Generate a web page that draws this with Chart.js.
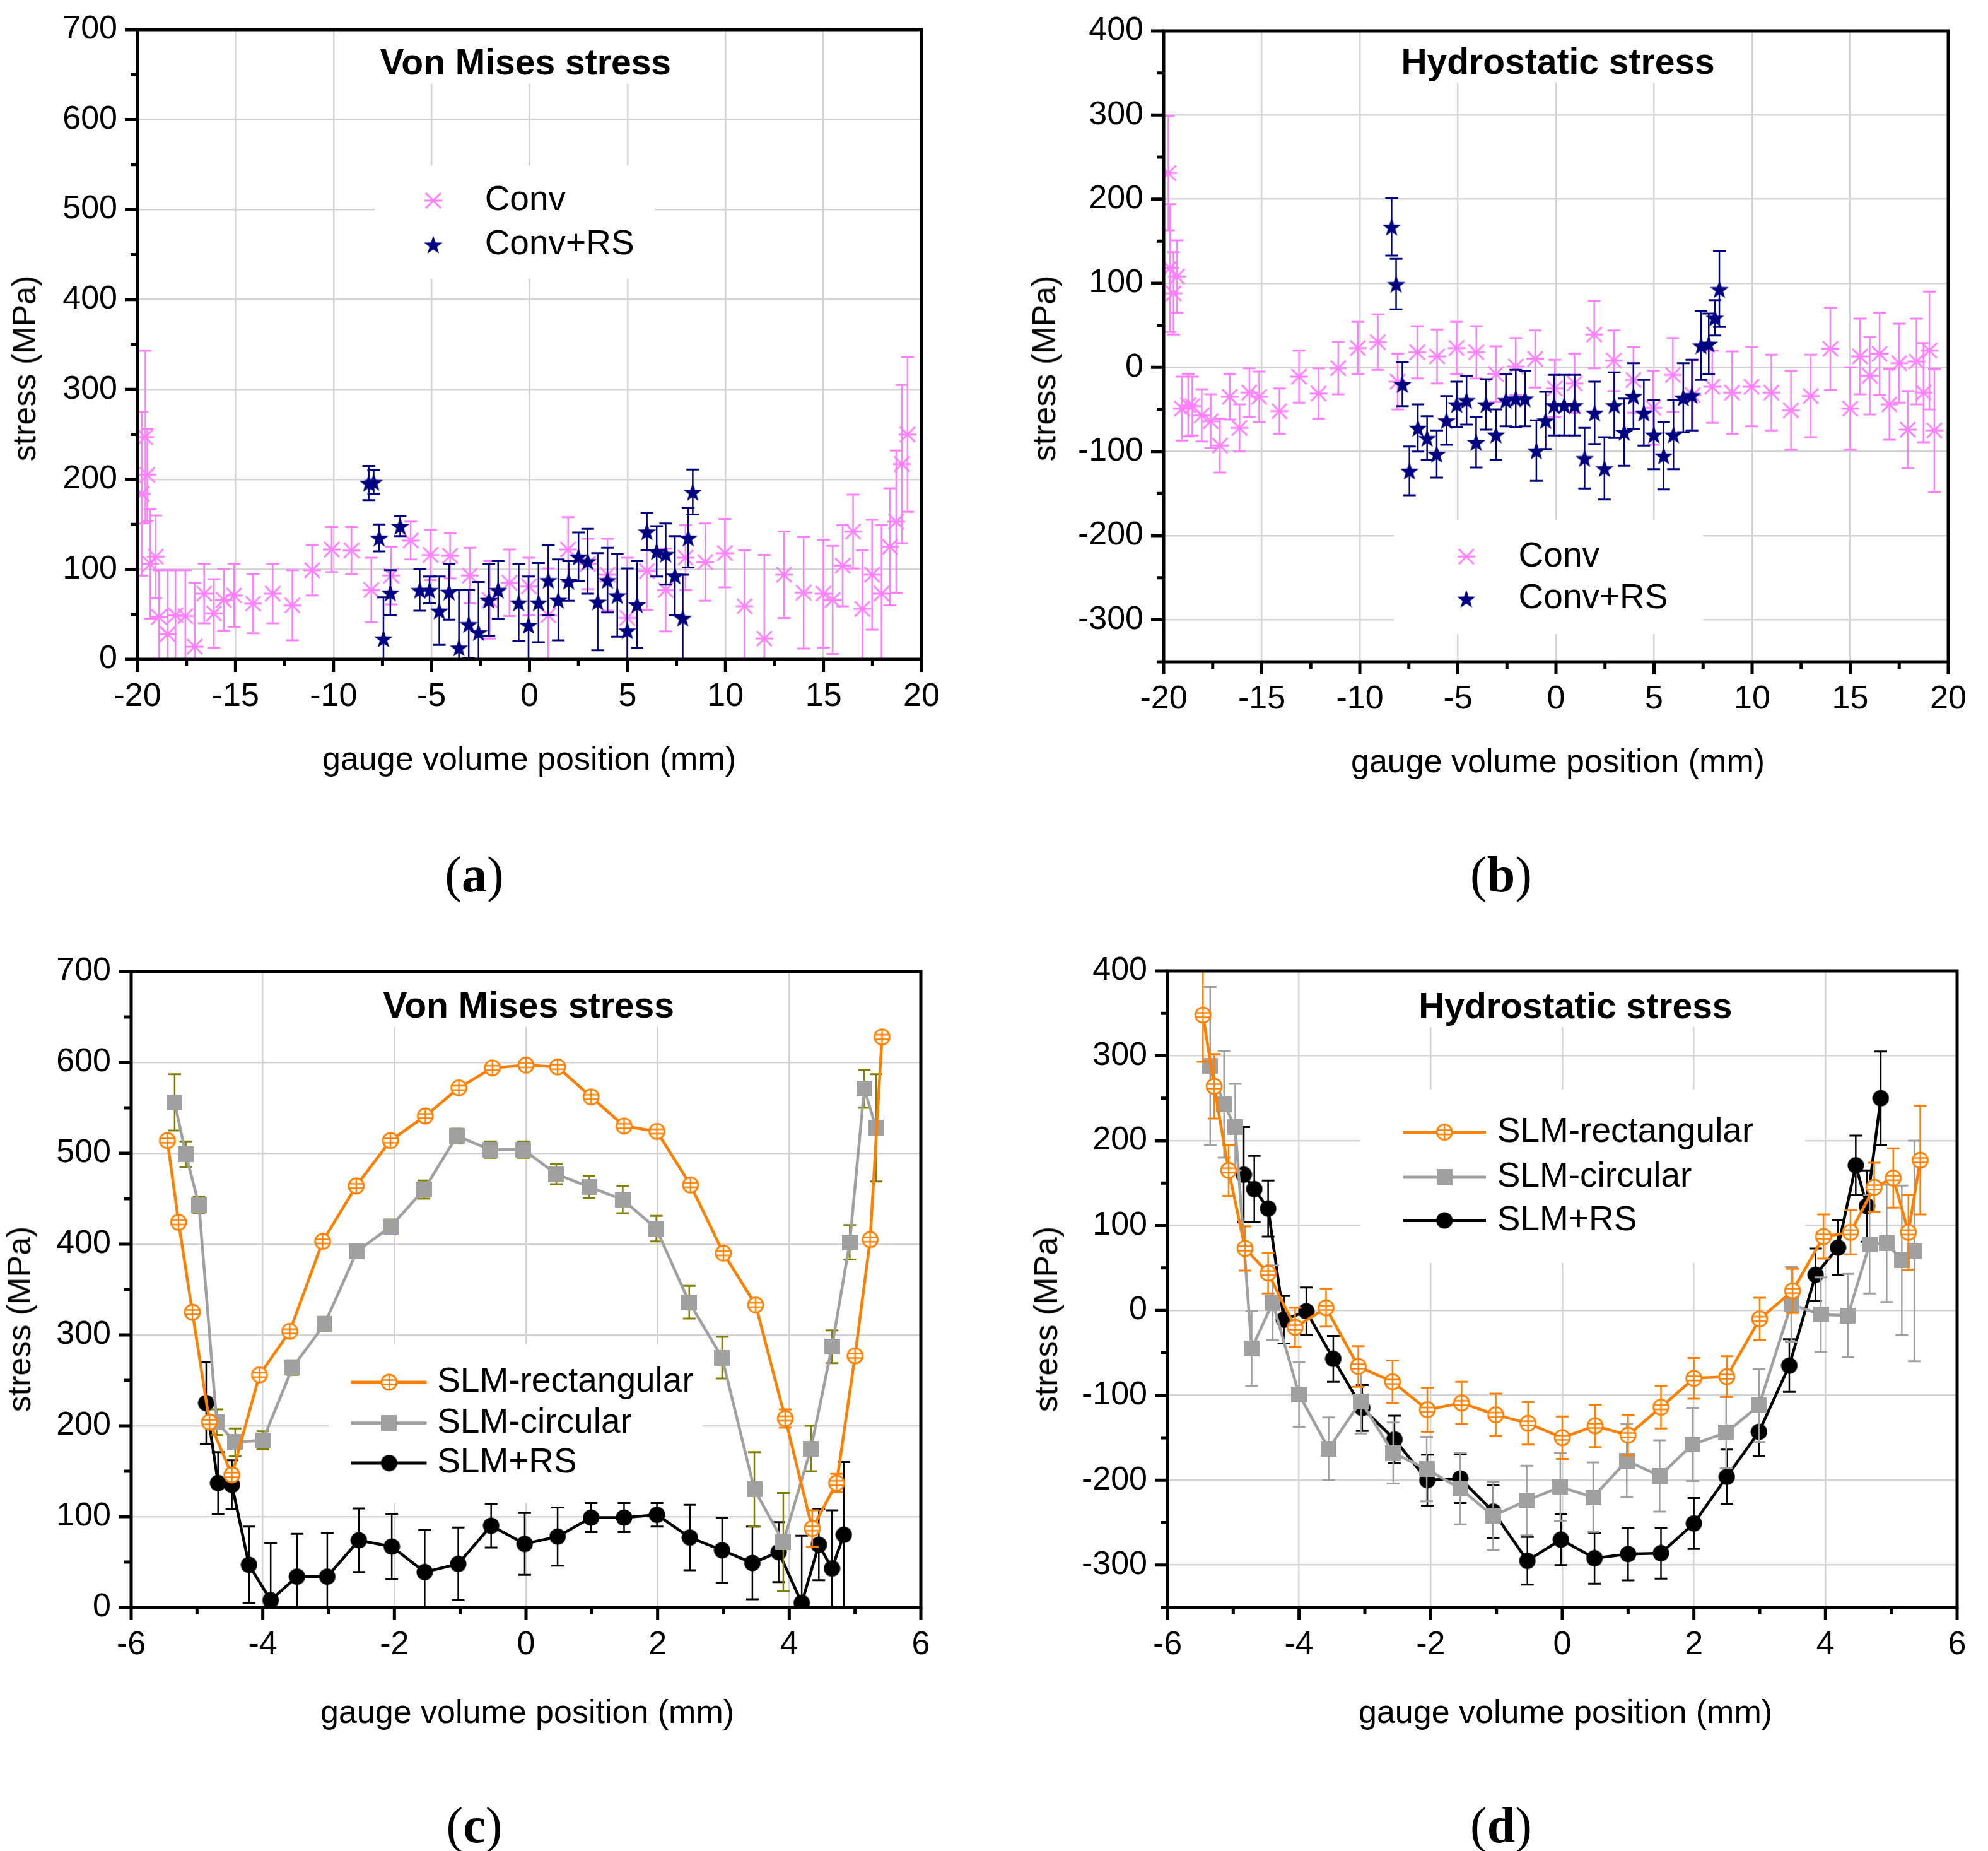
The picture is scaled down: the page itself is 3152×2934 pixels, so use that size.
<!DOCTYPE html>
<html>
<head>
<meta charset="utf-8">
<script src="https://cdn.jsdelivr.net/npm/chart.js@4.4.0/dist/chart.umd.min.js"></script>
<style>
  body { margin: 0; background: #fff; width: 3152px; height: 2934px; position: relative; overflow: hidden;
         font-family: "Liberation Sans", Arial, sans-serif; color: #000; }
  canvas { position: absolute; }
  .ytitle { position: absolute; font-size: 52px; white-space: nowrap; transform: translate(-50%, -50%) rotate(-90deg); }
  .xtitle { position: absolute; font-size: 52px; white-space: nowrap; transform: translate(-50%, -50%); }
  .tag { position: absolute; font-family: "Liberation Serif", "DejaVu Serif", serif; font-size: 80px; transform: translate(-50%, -50%); }
  .tag b { font-weight: bold; }
</style>
</head>
<body>
<canvas id="chartA"></canvas>
<canvas id="chartB"></canvas>
<canvas id="chartC"></canvas>
<canvas id="chartD"></canvas>

<div class="ytitle" style="left:38px;top:584px">stress (MPa)</div>
<div class="ytitle" style="left:1655px;top:584px">stress (MPa)</div>
<div class="ytitle" style="left:30px;top:2091px">stress (MPa)</div>
<div class="ytitle" style="left:1658px;top:2091px">stress (MPa)</div>
<div class="xtitle" style="left:839px;top:1202px">gauge volume position (mm)</div>
<div class="xtitle" style="left:2470px;top:1206px">gauge volume position (mm)</div>
<div class="xtitle" style="left:836px;top:2713px">gauge volume position (mm)</div>
<div class="xtitle" style="left:2482px;top:2713px">gauge volume position (mm)</div>
<div class="tag" style="left:752px;top:1386px">(<b>a</b>)</div>
<div class="tag" style="left:2380px;top:1386px">(<b>b</b>)</div>
<div class="tag" style="left:752px;top:2893px">(<b>c</b>)</div>
<div class="tag" style="left:2380px;top:2893px">(<b>d</b>)</div>

<script>
// ---- tick labels ----
const xTicksWide = [-20, -15, -10, -5, 0, 5, 10, 15, 20];
const xTicksNarrow = [-6, -4, -2, 0, 2, 4, 6];
const yTicksVonMises = [0, 100, 200, 300, 400, 500, 600, 700];
const yTicksHydro = [-300, -200, -100, 0, 100, 200, 300, 400];

// ---- (a) Von Mises, conventional specimens ----
const aConvX = [-19.78, -19.6, -19.5, -19.35, -19.07, -18.9, -18.46, -18.06, -17.56, -17.08, -16.6, -16.1, -15.6, -15.07, -14.1, -13.1, -12.1, -11.09, -10.09, -9.08, -8.07, -7.06, -6.06, -5.05, -4.05, -3.04, -2.03, -1.02, -0.03, 0.96, 1.97, 2.98, 3.98, 4.99, 5.99, 6.95, 7.96, 8.97, 9.97, 10.97, 11.98, 12.99, 13.99, 15.0, 15.47, 15.98, 16.51, 16.98, 17.48, 17.96, 18.39, 18.71, 19.0, 19.29];
const aConvY = [184, 247, 205, 106, 114, 47, 28, 49, 48, 14, 73, 51, 66, 71, 62, 73, 60, 99, 122, 121, 77, 93, 132, 116, 115, 93, 66, 85, 81, 49, 122, 106, 94, 46, 98, 77, 113, 108, 118, 59, 23, 94, 74, 73, 66, 104, 142, 56, 94, 73, 125, 153, 217, 250];
const aConvErr = [91, 96, 51, 61, 46, 52, 71, 50, 51, 71, 33, 38, 34, 35, 33, 33, 39, 28, 25, 26, 36, 32, 21, 28, 25, 31, 43, 37, 32, 52, 36, 28, 40, 67, 43, 46, 36, 43, 38, 62, 93, 48, 62, 60, 60, 45, 41, 65, 61, 76, 65, 79, 88, 86];
const aRsX = [-8.2, -7.95, -7.67, -7.45, -7.1, -6.6, -5.6, -5.1, -4.6, -4.1, -3.6, -3.1, -2.6, -2.07, -1.6, -0.55, -0.05, 0.46, 0.96, 1.47, 2.0, 2.5, 2.97, 3.48, 3.98, 4.48, 4.99, 5.49, 5.99, 6.49, 6.95, 7.42, 7.82, 8.1, 8.33];
const aRsY = [196, 197, 135, 23, 74, 148, 77, 77, 54, 75, 13, 39, 30, 66, 77, 63, 38, 63, 88, 66, 87, 114, 109, 64, 88, 71, 32, 61, 142, 120, 117, 93, 46, 135, 186];
const aRsErr = [19, 13, 15, 46, 25, 11, 23, 15, 38, 31, 64, 38, 56, 40, 32, 43, 54, 44, 39, 45, 22, 27, 36, 54, 36, 46, 69, 48, 21, 28, 34, 44, 48, 33, 25];

// ---- (b) hydrostatic, conventional specimens ----
const bConvX = [-19.76, -19.68, -19.5, -19.32, -19.07, -18.75, -18.54, -18.06, -17.6, -17.13, -16.63, -16.13, -15.63, -15.13, -14.1, -13.1, -12.1, -11.1, -10.1, -9.08, -8.07, -7.07, -6.06, -5.07, -4.06, -3.06, -2.05, -1.06, -0.06, 0.95, 1.95, 2.95, 3.95, 4.96, 5.96, 6.97, 7.97, 8.98, 9.97, 10.98, 11.98, 12.99, 13.99, 15.0, 15.5, 16.0, 16.5, 17.0, 17.5, 17.94, 18.38, 18.74, 19.04, 19.29];
const bConvY = [231, 118, 88, 108, -49, -45, -46, -57, -64, -93, -35, -72, -30, -35, -52, -11, -31, -1, 23, 30, -17, 18, 13, 23, 18, -8, 1, 10, -25, -19, 39, 8, -15, -48, -9, -33, -23, -30, -23, -30, -51, -34, 22, -49, 13, -10, 16, -44, 5, -74, 7, -30, 20, -75];
const bConvErr = [68, 76, 49, 43, 38, 37, 35, 31, 32, 32, 27, 28, 29, 30, 27, 31, 30, 31, 31, 33, 33, 31, 32, 31, 31, 33, 34, 34, 34, 35, 40, 36, 39, 44, 44, 42, 43, 49, 47, 45, 47, 49, 49, 49, 45, 46, 49, 42, 47, 46, 51, 59, 70, 73];
const bRsX = [-8.38, -8.15, -7.83, -7.47, -7.04, -6.57, -6.08, -5.58, -5.06, -4.56, -4.07, -3.56, -3.06, -2.55, -2.05, -1.58, -1.0, -0.53, -0.1, 0.42, 0.95, 1.46, 1.97, 2.47, 2.97, 3.48, 3.95, 4.48, 4.99, 5.49, 5.99, 6.49, 6.93, 7.4, 7.79, 8.1, 8.33];
const bRsY = [167, 99, -20, -123, -72, -84, -103, -63, -44, -39, -89, -44, -80, -39, -37, -37, -99, -63, -45, -45, -45, -108, -54, -120, -45, -77, -34, -54, -80, -105, -80, -36, -33, 26, 28, 59, 93];
const bRsErr = [34, 30, 26, 29, 28, 26, 28, 29, 27, 29, 30, 30, 30, 31, 34, 33, 36, 34, 36, 36, 36, 36, 37, 37, 39, 40, 39, 39, 41, 40, 41, 41, 42, 41, 36, 21, 45];

// ---- (c) Von Mises, SLM specimens ----
const cRectX = [-5.45, -5.28, -5.07, -4.81, -4.47, -4.05, -3.59, -3.09, -2.58, -2.06, -1.53, -1.02, -0.51, 0, 0.48, 0.99, 1.49, 1.99, 2.5, 3.0, 3.49, 3.94, 4.35, 4.72, 5.0, 5.23, 5.41];
const cRectY = [514, 424, 325, 204, 146, 256, 304, 403, 464, 514, 541, 572, 594, 597, 595, 562, 530, 524, 465, 390, 333, 208, 87, 137, 277, 405, 628];
const cRectErr = [4, 4, 4, 4, 6, 4, 4, 4, 4, 4, 4, 4, 4, 4, 4, 4, 4, 4, 4, 4, 5, 10, 20, 10, 4, 4, 4];
const cCircX = [-5.34, -5.17, -4.97, -4.7, -4.42, -4.0, -3.55, -3.06, -2.57, -2.06, -1.55, -1.05, -0.54, -0.04, 0.46, 0.96, 1.47, 1.98, 2.48, 2.98, 3.47, 3.91, 4.33, 4.65, 4.92, 5.14, 5.32];
const cCircY = [556, 499, 443, 204, 182, 184, 264, 312, 392, 419, 460, 519, 504, 504, 477, 463, 449, 417, 336, 275, 130, 72, 175, 287, 402, 571, 528];
const cCircErr = [31, 14, 9, 14, 15, 10, 8, 8, 6, 8, 10, 8, 9, 9, 11, 12, 15, 14, 18, 23, 41, 54, 25, 18, 19, 21, 59];
const cRsX = [-4.86, -4.68, -4.47, -4.21, -3.88, -3.48, -3.02, -2.54, -2.04, -1.54, -1.03, -0.53, -0.02, 0.48, 0.99, 1.49, 1.99, 2.49, 2.98, 3.44, 3.84, 4.19, 4.45, 4.65, 4.83];
const cRsY = [225, 137, 135, 47, 8, 34, 34, 74, 67, 39, 48, 90, 70, 78, 99, 99, 102, 77, 63, 49, 61, 5, 69, 43, 80];
const cRsErr = [45, 34, 27, 42, 63, 47, 48, 35, 36, 46, 40, 24, 34, 32, 16, 16, 13, 36, 36, 40, 33, 74, 39, 64, 80];

// ---- (d) hydrostatic, SLM specimens ----
const dRectX = [-5.46, -5.29, -5.07, -4.82, -4.47, -4.06, -3.59, -3.1, -2.58, -2.05, -1.53, -1.01, -0.52, 0, 0.5, 1.0, 1.5, 2.0, 2.5, 3.0, 3.5, 3.97, 4.38, 4.74, 5.03, 5.26, 5.44];
const dRectY = [348, 264, 165, 73, 44, -20, 3, -66, -84, -117, -109, -123, -133, -150, -136, -147, -114, -80, -78, -10, 23, 87, 92, 145, 156, 92, 177];
const dRectErr = [55, 38, 30, 26, 24, 23, 22, 24, 25, 26, 25, 25, 25, 25, 25, 24, 25, 24, 24, 25, 26, 26, 26, 29, 35, 44, 64];
const dCircX = [-5.35, -5.14, -4.97, -4.72, -4.4, -4.0, -3.55, -3.06, -2.57, -2.06, -1.55, -1.05, -0.54, -0.03, 0.47, 0.98, 1.48, 1.98, 2.49, 2.99, 3.48, 3.93, 4.34, 4.67, 4.93, 5.16, 5.35];
const dCircY = [288, 243, 216, -45, 9, -99, -163, -107, -168, -187, -210, -242, -224, -208, -220, -177, -195, -158, -144, -112, 7, -5, -6, 78, 79, 59, 70];
const dCircErr = [93, 63, 51, 44, 44, 38, 37, 38, 36, 38, 42, 40, 41, 40, 41, 43, 42, 43, 42, 43, 44, 44, 49, 58, 69, 88, 130];
const dRsX = [-4.84, -4.68, -4.47, -4.23, -3.89, -3.48, -3.04, -2.55, -2.05, -1.55, -1.05, -0.53, -0.02, 0.49, 1.0, 1.5, 2.0, 2.5, 2.99, 3.45, 3.85, 4.19, 4.46, 4.63, 4.84];
const dRsY = [160, 143, 120, -11, -1, -57, -115, -152, -200, -198, -237, -295, -270, -292, -287, -286, -251, -196, -143, -65, 42, 74, 171, 123, 250];
const dRsErr = [56, 39, 33, 28, 28, 27, 27, 28, 30, 29, 31, 28, 30, 30, 31, 30, 30, 32, 29, 31, 31, 32, 35, 42, 55];

const FONT = '"Liberation Sans", Arial, sans-serif';
const PINK = '#ff80ff', NAVY = '#000080', ORANGE = '#ff8000', GREY = '#a0a0a0', OLIVE = '#808000';

// marker glyphs drawn once, used as pointStyle images
function marker(kind) {
  const size = { asterisk: 32, star: 34, ring: 30, square: 25, dot: 27 }[kind];
  const c = document.createElement('canvas');
  c.width = size; c.height = size;
  const g = c.getContext('2d');
  const m = size / 2;
  if (kind === 'asterisk') {
    g.strokeStyle = PINK; g.lineWidth = 3;
    g.beginPath();
    g.moveTo(2, m); g.lineTo(size - 2, m);
    g.moveTo(m - 12, m - 12); g.lineTo(m + 12, m + 12);
    g.moveTo(m - 12, m + 12); g.lineTo(m + 12, m - 12);
    g.stroke();
  } else if (kind === 'star') {
    g.fillStyle = NAVY;
    g.beginPath();
    for (let i = 0; i < 10; i++) {
      const r = i % 2 ? 6.3 : 15.5;
      const a = -Math.PI / 2 + i * Math.PI / 5;
      g.lineTo(m + r * Math.cos(a), m + 1.5 + r * Math.sin(a));
    }
    g.closePath(); g.fill();
  } else if (kind === 'ring') {
    g.fillStyle = '#fff'; g.strokeStyle = ORANGE; g.lineWidth = 2.8;
    g.beginPath(); g.arc(m, m, 12, 0, Math.PI * 2); g.fill(); g.stroke();
    g.lineWidth = 2.4;
    g.beginPath();
    g.moveTo(m - 12, m - 3.5); g.lineTo(m + 12, m - 3.5);
    g.moveTo(m - 12, m + 3.5); g.lineTo(m + 12, m + 3.5);
    g.moveTo(m, m - 12); g.lineTo(m, m + 12);
    g.stroke();
  } else if (kind === 'square') {
    g.fillStyle = GREY; g.fillRect(0, 0, size, size);
  } else {
    g.fillStyle = '#000';
    g.beginPath(); g.arc(m, m, 13, 0, Math.PI * 2); g.fill();
  }
  return c;
}
const MK = { asterisk: marker('asterisk'), star: marker('star'), ring: marker('ring'), square: marker('square'), dot: marker('dot') };

function pts(xs, ys) {
  return xs.map((x, i) => ({ x: x, y: ys[i] }));
}

// error bars, white boxes, title, legend, frame and ticks
const decor = {
  id: 'decor',
  beforeDatasetsDraw(chart, args, o) {
    const ctx = chart.ctx, xs = chart.scales.x, ys = chart.scales.y, ca = chart.chartArea;
    const px = v => xs.getPixelForValue(v), py = v => ys.getPixelForValue(v);
    ctx.save();
    ctx.font = 'bold 57px ' + FONT;
    ctx.textAlign = 'center'; ctx.textBaseline = 'middle';
    const tw = ctx.measureText(o.title).width;
    const tx = px(o.titleAt[0]), ty = py(o.titleAt[1]);
    ctx.fillStyle = '#fff';
    ctx.fillRect(tx - tw / 2 - 14, ca.top, tw + 28, ty - ca.top + 30);
    const b = o.legendBox;
    ctx.fillRect(px(b[0]), py(b[3]), px(b[1]) - px(b[0]), py(b[2]) - py(b[3]));
    ctx.fillStyle = '#000';
    ctx.fillText(o.title, tx, ty);
    ctx.font = '55px ' + FONT;
    ctx.textAlign = 'left';
    o.legend.forEach(row => {
      const yy = py(row.y);
      if (row.line) {
        ctx.strokeStyle = row.line; ctx.lineWidth = 5;
        ctx.beginPath(); ctx.moveTo(px(o.lineFrom), yy); ctx.lineTo(px(o.lineTo), yy); ctx.stroke();
      }
      const img = row.marker;
      ctx.drawImage(img, px(o.markerX) - img.width / 2, yy - img.height / 2);
      ctx.fillStyle = '#000';
      ctx.fillText(row.label, px(o.textX), yy);
    });
    ctx.restore();
  },
  beforeDatasetDraw(chart, args) {
    const ds = chart.data.datasets[args.index];
    if (!ds.errors) return;
    const ctx = chart.ctx, ys = chart.scales.y, ca = chart.chartArea;
    ctx.save();
    ctx.beginPath(); ctx.rect(ca.left, ca.top, ca.right - ca.left, ca.bottom - ca.top); ctx.clip();
    ctx.strokeStyle = ds.errorColor;
    args.meta.data.forEach((p, i) => {
      const d = ds.data[i], e = ds.errors[i];
      const top = ys.getPixelForValue(d.y + e), bot = ys.getPixelForValue(d.y - e);
      ctx.lineWidth = 2.5;
      ctx.beginPath(); ctx.moveTo(p.x, top); ctx.lineTo(p.x, bot); ctx.stroke();
      ctx.lineWidth = 3;
      ctx.beginPath();
      ctx.moveTo(p.x - 10, top); ctx.lineTo(p.x + 10, top);
      ctx.moveTo(p.x - 10, bot); ctx.lineTo(p.x + 10, bot);
      ctx.stroke();
    });
    ctx.restore();
  },
  afterDraw(chart) {
    const ctx = chart.ctx, xs = chart.scales.x, ys = chart.scales.y, ca = chart.chartArea;
    const xMaj = xs.ticks.map(t => t.value), yMaj = ys.ticks.map(t => t.value);
    const xStep = (xMaj[1] - xMaj[0]) / 2, yStep = (yMaj[1] - yMaj[0]) / 2;
    ctx.save();
    ctx.strokeStyle = '#000'; ctx.lineWidth = 5;
    ctx.strokeRect(ca.left, ca.top, ca.right - ca.left, ca.bottom - ca.top);
    ctx.beginPath();
    for (let v = xs.min; v <= xs.max + 1e-9; v += xStep) {
      const len = xMaj.some(m => Math.abs(m - v) < 1e-6) ? 20 : 11;
      const x = xs.getPixelForValue(v);
      ctx.moveTo(x, ca.bottom); ctx.lineTo(x, ca.bottom + len);
    }
    for (let v = ys.max; v >= ys.min - 1e-9; v -= yStep) {
      const len = yMaj.some(m => Math.abs(m - v) < 1e-6) ? 20 : 11;
      const y = ys.getPixelForValue(v);
      ctx.moveTo(ca.left, y); ctx.lineTo(ca.left - len, y);
    }
    ctx.stroke();
    ctx.restore();
  }
};

function axis(min, max, tickList, isY) {
  return {
    type: 'linear', min: min, max: max,
    afterBuildTicks: s => { s.ticks = tickList.map(v => ({ value: v })); },
    afterFit: s => {
      if (isY) s.width = 200; else s.height = 100;
      // keep the plot box where the layout padding puts it
      s.paddingTop = 0; s.paddingBottom = 0; s.paddingLeft = 0; s.paddingRight = 0;
    },
    grid: { color: '#d4d4d4', lineWidth: 2.5, drawTicks: false },
    border: { display: false },
    ticks: { padding: isY ? 32 : 28, color: '#000', font: { family: FONT, size: 52 },
             maxRotation: 0, autoSkip: false, callback: v => String(v) }
  };
}

function panel(id, box, xr, yr, xTicks, yTicks, datasets, deco) {
  const cv = document.getElementById(id);
  const w = box.R - box.L + 240, h = box.B - box.T + 130;
  cv.width = w; cv.height = h;
  cv.style.left = (box.L - 200) + 'px';
  cv.style.top = (box.T - 30) + 'px';
  new Chart(cv, {
    type: 'scatter',
    data: { datasets: datasets },
    options: {
      responsive: false, devicePixelRatio: 1, animation: false, events: [],
      layout: { padding: { left: 0, right: 40, top: 30, bottom: 0 } },
      scales: { x: axis(xr[0], xr[1], xTicks, false), y: axis(yr[0], yr[1], yTicks, true) },
      plugins: { legend: { display: false }, tooltip: { enabled: false }, decor: deco }
    },
    plugins: [decor]
  });
}

function series(xs, ys, errs, img, errColor, lineColor) {
  return {
    data: pts(xs, ys), errors: errs, errorColor: errColor,
    pointStyle: img, pointRadius: 10,
    showLine: !!lineColor, borderColor: lineColor || errColor, borderWidth: 4.5, tension: 0
  };
}

panel('chartA', { L: 218, R: 1461, T: 47, B: 1045 }, [-20, 20], [0, 700], xTicksWide, yTicksVonMises, [
  series(aRsX, aRsY, aRsErr, MK.star, NAVY),
  series(aConvX, aConvY, aConvErr, MK.asterisk, PINK)
], {
  title: 'Von Mises stress', titleAt: [-0.2, 661],
  legendBox: [-7.9, 6.4, 423, 549], markerX: -4.91, textX: -2.28,
  legend: [{ label: 'Conv', y: 510, marker: MK.asterisk }, { label: 'Conv+RS', y: 461, marker: MK.star }]
});

panel('chartB', { L: 1845, R: 3089, T: 49, B: 1049 }, [-20, 20], [-350, 400], xTicksWide, yTicksHydro, [
  series(bRsX, bRsY, bRsErr, MK.star, NAVY),
  series(bConvX, bConvY, bConvErr, MK.asterisk, PINK)
], {
  title: 'Hydrostatic stress', titleAt: [0.1, 361],
  legendBox: [-8.26, 7.5, -317, -181], markerX: -4.57, textX: -1.91,
  legend: [{ label: 'Conv', y: -225, marker: MK.asterisk }, { label: 'Conv+RS', y: -275, marker: MK.star }]
});

panel('chartC', { L: 208, R: 1460, T: 1540, B: 2548 }, [-6, 6], [0, 700], xTicksNarrow, yTicksVonMises, [
  series(cRectX, cRectY, cRectErr, MK.ring, ORANGE, ORANGE),
  series(cCircX, cCircY, cCircErr, MK.square, OLIVE, GREY),
  series(cRsX, cRsY, cRsErr, MK.dot, '#000', '#000')
], {
  title: 'Von Mises stress', titleAt: [0.04, 660],
  legendBox: [-3.0, 2.69, 115, 290], lineFrom: -2.66, lineTo: -1.51, markerX: -2.08, textX: -1.35,
  legend: [
    { label: 'SLM-rectangular', y: 248, marker: MK.ring, line: ORANGE },
    { label: 'SLM-circular', y: 203, marker: MK.square, line: GREY },
    { label: 'SLM+RS', y: 159, marker: MK.dot, line: '#000' }
  ]
});

panel('chartD', { L: 1851, R: 3103, T: 1539, B: 2548 }, [-6, 6], [-350, 400], xTicksNarrow, yTicksHydro, [
  series(dRectX, dRectY, dRectErr, MK.ring, ORANGE, ORANGE),
  series(dCircX, dCircY, dCircErr, MK.square, GREY, GREY),
  series(dRsX, dRsY, dRsErr, MK.dot, '#000', '#000')
], {
  title: 'Hydrostatic stress', titleAt: [0.2, 356],
  legendBox: [-3.07, 3.69, 56, 260], lineFrom: -2.42, lineTo: -1.16, markerX: -1.79, textX: -0.99,
  legend: [
    { label: 'SLM-rectangular', y: 210, marker: MK.ring, line: ORANGE },
    { label: 'SLM-circular', y: 157, marker: MK.square, line: GREY },
    { label: 'SLM+RS', y: 106, marker: MK.dot, line: '#000' }
  ]
});
</script>
</body>
</html>
